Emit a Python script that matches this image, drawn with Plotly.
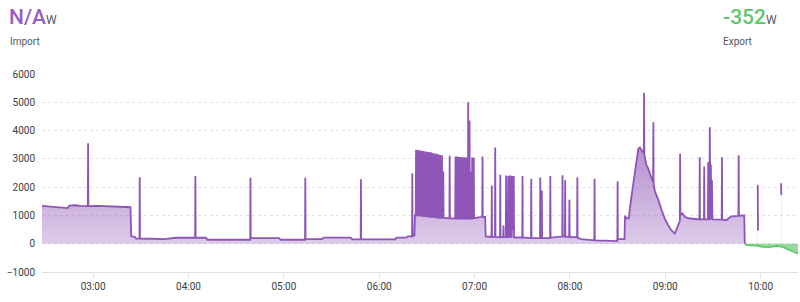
import plotly.graph_objects as go

DAY = "2024-01-01 "

# ---- Import series (W); None marks a gap in the data ----
import_time = [
    "02:27:50", "02:33", "02:38", "02:42", "02:44", "02:45", "02:49", "02:52",
    "02:56:40", "02:56:50", "02:57:00", "03:03", "03:08", "03:14", "03:19",
    "03:23:30", "03:24:00", "03:26", "03:27", "03:29:10", "03:29:20", "03:29:30",
    "03:36", "03:45", "03:52", "04:04:10", "04:04:20", "04:04:30", "04:11", "04:12",
    "04:38:50", "04:39:00", "04:39:10", "04:57", "04:58", "05:13:20", "05:13:30",
    "05:13:40", "05:24", "05:25", "05:42", "05:43", "05:48:20", "05:48:30",
    "05:48:40", "06:10", "06:11", "06:17", "06:18", "06:20:40", "06:20:50",
    "06:21:00", "06:22:10", "06:22:30",
    "06:23:00", "06:23:10", "06:23:20", "06:24:10", "06:24:20", "06:24:30",
    "06:25:20", "06:25:30", "06:25:40", "06:26:30", "06:26:40", "06:26:50",
    "06:27:40", "06:27:50", "06:28:00", "06:28:50", "06:29:00", "06:29:10",
    "06:30:00", "06:30:10", "06:30:20", "06:31:10", "06:31:20", "06:31:30",
    "06:32:20", "06:32:30", "06:32:40", "06:33:30", "06:33:40", "06:33:50",
    "06:34:40", "06:34:50", "06:35:00", "06:35:50", "06:36:00", "06:36:10",
    "06:37:00", "06:37:10", "06:37:20", "06:38:10", "06:38:20", "06:38:30",
    "06:39:20", "06:39:30", "06:39:40", "06:40:10", "06:40:20", "06:40:30",
    "06:44:10", "06:44:20", "06:44:30",
    "06:47:50", "06:48:00", "06:48:10", "06:49:00", "06:49:10", "06:49:20",
    "06:50:10", "06:50:20", "06:50:30", "06:51:20", "06:51:30", "06:51:40",
    "06:52:30", "06:52:40", "06:52:50", "06:53:40", "06:53:50", "06:54:00",
    "06:54:50", "06:55:00", "06:55:10", "06:55:50", "06:56:00", "06:56:10",
    "06:56:40", "06:56:50", "06:57:00", "06:57:30", "06:57:40", "06:57:50",
    "06:58:20", "06:58:30", "06:58:40", "06:59:20", "06:59:30", "06:59:40",
    "07:04:50", "07:05:00", "07:05:10", "07:06:40", "07:07:00",
    "07:10:40", "07:10:50", "07:11:00", "07:12:50", "07:13:00", "07:13:10",
    "07:16:00", "07:16:10", "07:16:20", "07:18:00", "07:18:10", "07:18:20",
    "07:19:40", "07:19:50", "07:20:00", "07:21:00", "07:21:10", "07:21:20",
    "07:22:10", "07:22:20", "07:22:30", "07:23:20", "07:23:30", "07:23:40",
    "07:24:30", "07:24:40", "07:24:50", "07:25:30",
    "07:30:00", "07:30:10", "07:30:20", "07:35:30", "07:35:40", "07:35:50",
    "07:41:10", "07:41:20", "07:41:30", "07:42:10", "07:42:20", "07:42:30",
    "07:47:30", "07:47:40", "07:47:50", "07:52",
    "07:55:10", "07:55:20", "07:55:30", "07:56:50", "07:57:00", "07:57:10",
    "07:59:30", "07:59:40", "07:59:50", "08:04:30", "08:04:40", "08:04:50",
    "08:07", "08:15:20", "08:15:30", "08:15:40", "08:22",
    "08:29:50", "08:30:00", "08:30:10", "08:34:20", "08:34:40", "08:35:30",
    "08:37", "08:38:30", "08:40:50", "08:43", "08:44", "08:45", "08:46:30",
    "08:46:40", "08:46:50", "08:48:10", "08:49:10", "08:51:20", "08:52:20",
    "08:52:30", "08:52:40", "08:53:30", "08:55:40", "08:57:40", "08:59:40",
    "09:01:50", "09:03:50", "09:06:00", "09:08:00", "09:09:10", "09:09:20",
    "09:09:30", "09:10:40", "09:12:20", "09:14:30", "09:18",
    "09:21:30", "09:21:40", "09:21:50", "09:24:20", "09:24:30", "09:24:40",
    "09:26:50", "09:27:00", "09:27:10", "09:27:50", "09:28:00", "09:28:20",
    "09:28:40", "09:29:00", "09:29:20", "09:29:40",
    "09:35:30", "09:35:40", "09:35:50", "09:38:20", "09:40", "09:41:30",
    "09:46:00", "09:46:10", "09:46:20", "09:49:40", "09:50:00",
    "09:50:30", "09:58:10", "09:58:20", "09:58:40", "10:12:50", "10:13:00",
    "10:13:20",
]
import_w = [
    1340, 1320, 1310, 1290, 1260, 1350, 1360, 1340,
    1330, 3550, 1330, 1340, 1330, 1320, 1300,
    1290, 260, 250, 180, 180, 2350, 180,
    175, 165, 210, 210, 2390, 210, 210, 140,
    140, 2330, 200, 200, 140, 140, 2330,
    165, 165, 215, 215, 155, 155, 2280,
    155, 155, 215, 215, 260, 260, 2490,
    260, 300, 1010,
    1010, 3320, 1010, 1000, 3310, 1000,
    1000, 3300, 1000, 990, 3290, 990,
    990, 3280, 980, 980, 3260, 980,
    970, 3250, 970, 970, 3240, 960,
    960, 3230, 950, 950, 3210, 950,
    950, 3190, 940, 930, 3180, 930,
    920, 3160, 920, 920, 3140, 910,
    910, 3130, 910, 910, 2550, 910,
    900, 3110, 900,
    890, 3080, 890, 890, 3080, 890,
    890, 3070, 890, 890, 3070, 890,
    890, 3060, 890, 890, 3060, 890,
    890, 3050, 890, 890, 5000, 890,
    890, 4360, 890, 890, 2550, 890,
    890, 3050, 890, 900, 3040, 900,
    950, 3080, 950, 950, 260,
    240, 2060, 240, 240, 3400, 240,
    230, 2440, 230, 230, 640, 230,
    230, 2410, 230, 230, 2400, 230,
    230, 2410, 240, 240, 2400, 500,
    500, 2390, 230, 220,
    220, 2390, 220, 200, 2300, 200,
    200, 2340, 200, 200, 1880, 200,
    200, 2390, 210, 240,
    250, 2420, 250, 250, 2240, 250,
    240, 1550, 240, 230, 2340, 210,
    165, 120, 2300, 120, 110,
    95, 2210, 165, 165, 990, 900,
    900, 1580, 2470, 3360, 3400, 3330, 3200,
    5340, 3150, 2780, 2670, 2310, 2200,
    4290, 2100, 1840, 1540, 1190, 890,
    650, 470, 360, 650, 800, 3180,
    1000, 1070, 950, 900, 870,
    860, 3060, 860, 860, 2730, 860,
    860, 2890, 860, 860, 4120, 1500,
    2800, 860, 2250, 860,
    850, 3060, 850, 830, 900, 970,
    980, 3130, 990, 1000, 0,
    None, 2080, 470, None, 2140, 1720,
    None,
]

# ---- Export series (W) ----
export_time = ["09:50:00", "09:51", "09:54", "09:58", "10:01", "10:05", "10:08",
               "10:10", "10:13", "10:16", "10:19", "10:21", "10:23:30"]
export_w = [0, -40, -60, -70, -110, -120, -100, -80, -100, -170, -240, -300, -352]

# ---- Header values ----
import_label, import_value = "Import", "N/A"
export_label, export_value = "Export", "-352"
unit = "W"

y_ticks = [-1000, 0, 1000, 2000, 3000, 4000, 5000, 6000]

PURPLE = "#8e54b7"
GREEN = "#5cc86b"

# split import series into continuous runs at the gaps
runs, cur_x, cur_y = [], [], []
for t, v in zip(import_time, import_w):
    if v is None:
        if cur_x:
            runs.append((cur_x, cur_y))
        cur_x, cur_y = [], []
    else:
        cur_x.append(DAY + t)
        cur_y.append(v)
if cur_x:
    runs.append((cur_x, cur_y))

fig = go.Figure()
for rx, ry in runs:
    fig.add_trace(go.Scatter(
        x=rx, y=ry, mode="lines",
        line=dict(color=PURPLE, width=1.8), fill="tozeroy",
        fillgradient=dict(type="vertical", start=0, stop=5400,
                          colorscale=[[0, "rgba(142,84,183,0.30)"],
                                      [1, "rgba(142,84,183,0.85)"]]),
        hoverinfo="skip", showlegend=False,
    ))
fig.add_trace(go.Scatter(
    x=[DAY + t for t in export_time], y=export_w, mode="lines",
    line=dict(color=GREEN, width=1.8), fill="tozeroy",
    fillcolor="rgba(92,200,107,0.65)", hoverinfo="skip", showlegend=False,
))

fig.update_layout(
    width=800, height=302,
    margin=dict(l=42, r=2, t=74, b=30),
    paper_bgcolor="white", plot_bgcolor="white",
    font=dict(family="Roboto, Liberation Sans, sans-serif", color="#373d3f"),
    xaxis=dict(
        type="date",
        range=[DAY + "02:27:50", DAY + "10:23:30"],
        tick0=DAY + "03:00", dtick=3600000, tickformat="%H:%M",
        showgrid=False, zeroline=False,
        showline=True, linecolor="#e0e0e0", linewidth=1,
        ticks="outside", ticklen=5, tickcolor="#e0e0e0",
        tickfont=dict(size=10, color="#373d3f"),
    ),
    yaxis=dict(
        range=[-1000, 6000], tickvals=y_ticks,
        showgrid=True, gridcolor="#e2e2e2", griddash="3px,3px", gridwidth=1,
        zeroline=False, showline=False,
        tickfont=dict(size=10, color="#373d3f"),
        ticklabelstandoff=6,
    ),
)

def px_x(p):
    return (p - 42) / 756.0

def px_y(p):
    return (272 - p) / 198.0

fig.add_annotation(
    xref="paper", yref="paper", x=px_x(7), y=px_y(3), xanchor="left", yanchor="top",
    showarrow=False,
    text=f"<span style='font-size:21px;font-weight:500;color:#9a5cc2'>{import_value}</span>"
         f"<span style='font-size:12px;color:#555'>{unit}</span>",
)
fig.add_annotation(
    xref="paper", yref="paper", x=px_x(8), y=px_y(34), xanchor="left", yanchor="top",
    showarrow=False, text=import_label, font=dict(size=10, color="#555"),
)
fig.add_annotation(
    xref="paper", yref="paper", x=px_x(721), y=px_y(3), xanchor="left", yanchor="top",
    showarrow=False,
    text=f"<span style='font-size:21px;font-weight:500;color:{GREEN}'>{export_value}</span>"
         f"<span style='font-size:12px;color:#555'>{unit}</span>",
)
fig.add_annotation(
    xref="paper", yref="paper", x=px_x(721), y=px_y(34), xanchor="left", yanchor="top",
    showarrow=False, text=export_label, font=dict(size=10, color="#555"),
)

fig.write_html("out.html")
